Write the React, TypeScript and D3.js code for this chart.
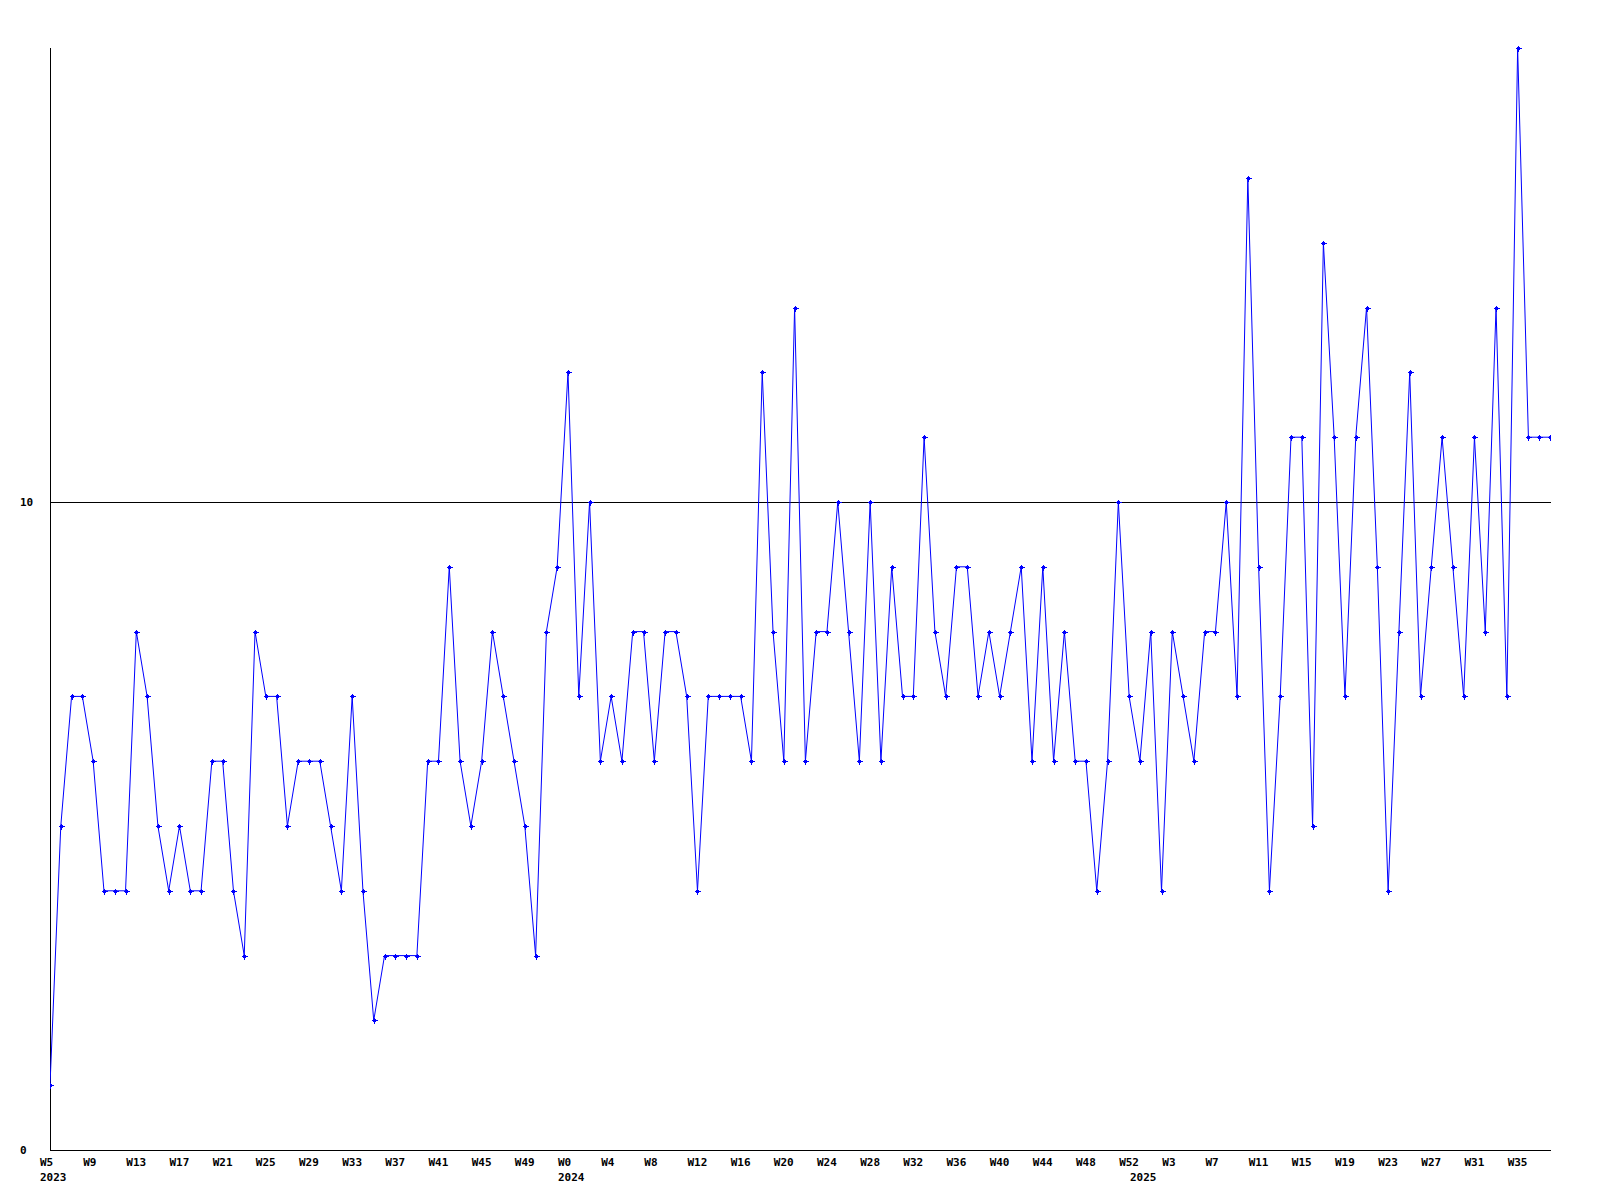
import React from "react";
import * as d3 from "d3";

// Week ranges covered by the series, per year
const years = [2023, 2024, 2025];
const weekFirst = [5, 0, 0];
const weekLast = [52, 52, 38];

// Weekly values (W5 2023 ... W38 2025)
const values = [
  1, 5, 7, 7, 6, 4, 4, 4, 8, 7,
  5, 4, 5, 4, 4, 6, 6, 4, 3, 8,
  7, 7, 5, 6, 6, 6, 5, 4, 7, 4,
  2, 3, 3, 3, 3, 6, 6, 9, 6, 5,
  6, 8, 7, 6, 5, 3, 8, 9, 12, 7,
  10, 6, 7, 6, 8, 8, 6, 8, 8, 7,
  4, 7, 7, 7, 7, 6, 12, 8, 6, 13,
  6, 8, 8, 10, 8, 6, 10, 6, 9, 7,
  7, 11, 8, 7, 9, 9, 7, 8, 7, 8,
  9, 6, 9, 6, 8, 6, 6, 4, 6, 10,
  7, 6, 8, 4, 8, 7, 6, 8, 8, 10,
  7, 15, 9, 4, 7, 11, 11, 5, 14, 11,
  7, 11, 13, 9, 4, 8, 12, 7, 9, 11,
  9, 7, 11, 8, 13, 7, 17, 11, 11, 11,
];

const yTicks = [0, 10];
const yMax = 17;

type Cat = { year: number; week: number; firstOfYear: boolean };
const categories: Cat[] = [];
years.forEach((y, yi) => {
  for (let w = weekFirst[yi]; w <= weekLast[yi]; w++) {
    categories.push({ year: y, week: w, firstOfYear: w === weekFirst[yi] });
  }
});

const W = 1600;
const H = 1200;
const left = 50;
const right = 1550;
const bottom = 1150;
const top = 48.4;

export default function App() {
  const x = d3.scaleLinear().domain([0, values.length - 1]).range([left, right]);
  const y = d3.scaleLinear().domain([0, yMax]).range([bottom, top]);
  const line = d3
    .line<number>()
    .x((_, i) => x(i))
    .y((d) => y(d));

  const font = {
    fontFamily: "'DejaVu Sans Mono', monospace",
    fontWeight: "bold" as const,
    fontSize: 11,
  };

  return (
    <svg
      width={W}
      height={H}
      style={{ position: "absolute", left: 0, top: 0, background: "#fff" }}
    >
      <defs>
        <clipPath id="plot">
          <rect x={left} y={0} width={right - left + 1} height={bottom + 1} />
        </clipPath>
      </defs>
      <rect x={0} y={0} width={W} height={H} fill="#fff" />
      {/* axes */}
      <line x1={left} x2={left} y1={y(yMax)} y2={bottom} stroke="#000" strokeWidth={1} shapeRendering="crispEdges" />
      <line x1={left} x2={right + 1} y1={bottom} y2={bottom} stroke="#000" strokeWidth={1} shapeRendering="crispEdges" />
      {yTicks
        .filter((t) => t > 0)
        .map((t) => (
          <line key={t} x1={left} x2={right + 1} y1={y(t)} y2={y(t)} stroke="#000" strokeWidth={1} shapeRendering="crispEdges" />
        ))}
      {yTicks.map((t) => (
        <text key={"yl" + t} x={20} y={y(t)} dy="0.35em" {...font} fill="#000">
          {t}
        </text>
      ))}
      {categories.map((c, i) =>
        i % 4 === 0 ? (
          <text key={"xl" + i} x={x(i) - 10} y={1166} {...font} fill="#000">
            {"W" + c.week}
          </text>
        ) : null
      )}
      {categories.map((c, i) =>
        c.firstOfYear ? (
          <text key={"yr" + i} x={x(i) - 10} y={1181} {...font} fill="#000">
            {c.year}
          </text>
        ) : null
      )}
      {/* series */}
      <g clipPath="url(#plot)">
        <path d={line(values) || ""} fill="none" stroke="#0000ff" strokeWidth={1} />
        {values.map((v, i) => {
          const cx = Math.round(x(i)) + 0.5;
          const cy = Math.round(y(v)) + 0.5;
          return (
            <g key={"m" + i} stroke="#0000ff" strokeWidth={1} shapeRendering="crispEdges">
              <line x1={cx - 3} x2={cx + 3} y1={cy} y2={cy} />
              <line x1={cx} x2={cx} y1={cy - 3} y2={cy + 3} />
              <rect x={cx - 1.5} y={cy - 1.5} width={3} height={3} fill="#0000ff" stroke="none" />
            </g>
          );
        })}
      </g>
    </svg>
  );
}
